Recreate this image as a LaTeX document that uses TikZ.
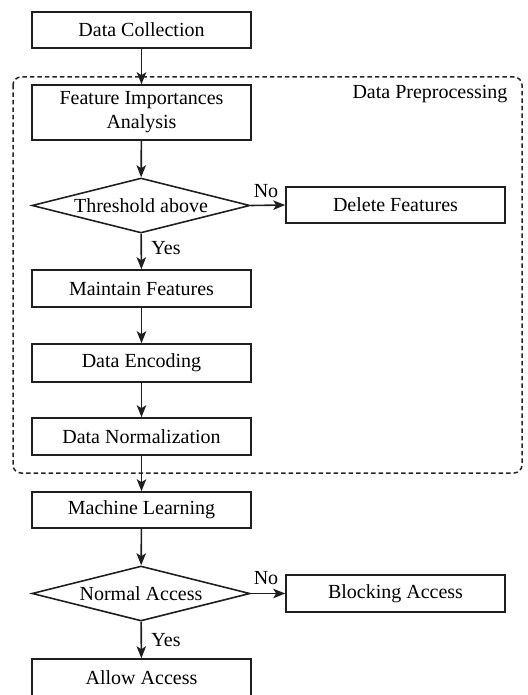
\documentclass[tikz,border=0pt]{standalone}
\usepackage{fontspec}
\setmainfont{Liberation Serif}
\usetikzlibrary{shapes.geometric,arrows.meta}
\begin{document}
\begin{tikzpicture}[x=1pt,y=-1pt,
  every node/.style={font=\fontsize{20}{24}\selectfont, text=black},
  box/.style={draw=black!88, line width=1.6pt, rectangle, minimum width=219pt, inner sep=0pt, align=center},
  dec/.style={draw=black!88, line width=1.6pt, diamond, aspect=3.96, minimum width=218pt, minimum height=55pt, inner sep=0pt},
  arr/.style={draw=black!88, line width=1.6pt, -{Stealth[length=12pt,width=9.5pt,inset=3pt]}},
  lbl/.style={font=\fontsize{20}{24}\selectfont, inner sep=0pt}
]
\useasboundingbox (0,0) rectangle (527,695);
\draw[black!85, line width=1.5pt, dash pattern=on 4.5pt off 3pt, rounded corners=8pt] (13,77) rectangle (522,473);
\node[lbl] (dp) at (430,94) {Data Preprocessing};

\node[box, minimum height=36pt] (dc) at (141.5,30) {Data Collection};
\node[box, minimum height=55pt] (fia) at (141.5,112.5) {Feature Importances\\Analysis};
\node[dec] (thr) at (141,205.5) {Threshold above};
\node[box, minimum height=36pt] (del) at (395.5,205) {Delete Features};
\node[box, minimum height=37pt] (mf) at (141.5,288.5) {Maintain Features};
\node[box, minimum height=38pt] (de) at (141.5,363) {Data Encoding};
\node[box, minimum height=37pt] (dn) at (141.5,436.5) {Data Normalization};
\node[box, minimum height=36pt] (ml) at (141.5,510) {Machine Learning};
\node[dec] (na) at (141,593.5) {Normal Access};
\node[box, minimum height=37pt] (ba) at (395.5,593.5) {Blocking Access};
\node[box, minimum height=38pt] (aa) at (141.5,678) {Allow Access};

\draw[arr] (dc) -- (fia);
\draw[arr] (fia) -- (thr);
\draw[arr] (thr.east) -- (del.west);
\draw[arr] (thr) -- (mf);
\draw[arr] (mf) -- (de);
\draw[arr] (de) -- (dn);
\draw[arr] (dn) -- (ml);
\draw[arr] (ml) -- (na);
\draw[arr] (na.east) -- (ba.west);
\draw[arr] (na) -- (aa);

\node[lbl] (no1) at (266,191) {No};
\node[lbl] (yes1) at (166,248) {Yes};
\node[lbl] (no2) at (266,578) {No};
\node[lbl] (yes2) at (166,640) {Yes};
\end{tikzpicture}
\end{document}
